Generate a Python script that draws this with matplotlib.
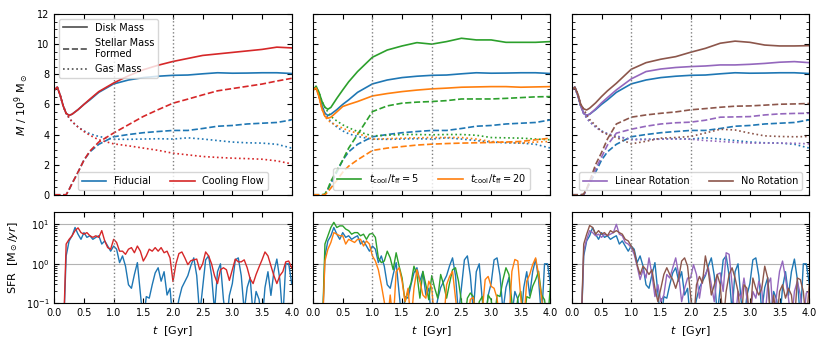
import numpy as np
import matplotlib.pyplot as plt
from matplotlib.lines import Line2D
from matplotlib.ticker import MultipleLocator, AutoMinorLocator, LogLocator, NullFormatter

plt.rcParams['font.size'] = 7
plt.rcParams['xtick.direction'] = 'in'
plt.rcParams['ytick.direction'] = 'in'
plt.rcParams['xtick.top'] = True
plt.rcParams['ytick.right'] = True

# mass history (units of 1e9 Msun)
t_mass = [0, 0.05, 0.1, 0.15, 0.2, 0.25, 0.3, 0.4, 0.5, 0.6, 0.75, 1.0,
          1.25, 1.5, 1.75, 2.0, 2.25, 2.5, 2.75, 3.0, 3.25, 3.5, 3.75, 4.0]

fid_disk = [6.95, 7.15, 6.6, 5.9, 5.4, 5.27, 5.35, 5.65, 6.0, 6.3, 6.8, 7.36,
            7.62, 7.78, 7.87, 7.93, 7.95, 8.03, 8.1, 8.07, 8.08, 8.1, 8.1, 8.05]
fid_star = [0, 0, 0, 0, 0, 0.35, 0.75, 1.5, 2.3, 2.85, 3.35, 3.85,
            4.0, 4.12, 4.2, 4.27, 4.27, 4.4, 4.55, 4.6, 4.7, 4.75, 4.8, 4.97]
fid_gas = [6.95, 7.15, 6.6, 5.9, 5.4, 5.1, 4.85, 4.5, 4.24, 4.05, 3.87, 3.69,
           3.68, 3.7, 3.72, 3.7, 3.78, 3.7, 3.6, 3.5, 3.45, 3.43, 3.35, 3.1]

cf_disk = [6.95, 7.15, 6.6, 5.9, 5.4, 5.27, 5.35, 5.65, 6.0, 6.35, 6.85, 7.42,
           7.9, 8.3, 8.6, 8.85, 9.05, 9.25, 9.35, 9.45, 9.55, 9.65, 9.8, 9.75]
cf_star = [0, 0, 0, 0, 0, 0.35, 0.75, 1.5, 2.3, 2.9, 3.5, 4.1,
           4.65, 5.2, 5.65, 6.08, 6.35, 6.63, 6.9, 7.05, 7.2, 7.35, 7.55, 7.73]
cf_gas = [6.95, 7.15, 6.6, 5.9, 5.4, 5.1, 4.85, 4.5, 4.2, 3.95, 3.65, 3.38,
          3.25, 3.1, 2.95, 2.76, 2.65, 2.54, 2.48, 2.43, 2.4, 2.36, 2.25, 2.05]

t5_disk = [6.95, 7.2, 6.8, 6.2, 5.8, 5.68, 5.8, 6.4, 6.96, 7.5, 8.18, 9.13,
           9.61, 9.88, 10.1, 10.0, 10.17, 10.39, 10.28, 10.28, 10.12, 10.12, 10.12, 10.17]
t5_star = [0, 0, 0, 0, 0.05, 0.4, 0.9, 1.6, 2.3, 3.1, 4.0, 5.52,
           5.9, 6.08, 6.15, 6.19, 6.25, 6.36, 6.36, 6.36, 6.4, 6.45, 6.5, 6.52]
t5_gas = [6.95, 7.2, 6.8, 6.2, 5.8, 5.5, 5.2, 4.9, 4.64, 4.45, 4.2, 3.91,
          3.95, 4.0, 4.0, 3.98, 4.0, 4.0, 3.95, 3.8, 3.78, 3.76, 3.7, 3.65]

t20_disk = [6.95, 7.1, 6.5, 5.7, 5.2, 5.08, 5.15, 5.5, 5.86, 6.0, 6.19, 6.56,
            6.72, 6.85, 6.95, 7.03, 7.08, 7.14, 7.16, 7.18, 7.18, 7.14, 7.16, 7.18]
t20_star = [0, 0, 0, 0, 0, 0.2, 0.45, 0.95, 1.5, 1.9, 2.32, 2.94,
            3.1, 3.2, 3.3, 3.36, 3.4, 3.43, 3.45, 3.47, 3.5, 3.54, 3.65, 3.76]
t20_gas = [6.95, 7.1, 6.5, 5.7, 5.2, 4.95, 4.8, 4.6, 4.42, 4.25, 4.09, 3.69,
           3.72, 3.76, 3.78, 3.8, 3.8, 3.8, 3.7, 3.54, 3.48, 3.43, 3.5, 3.54]

lin_disk = [6.95, 7.15, 6.6, 5.9, 5.4, 5.27, 5.35, 5.7, 6.1, 6.45, 6.96, 7.69,
            8.18, 8.35, 8.45, 8.51, 8.55, 8.62, 8.62, 8.66, 8.72, 8.8, 8.84, 8.77]
lin_star = [0, 0, 0, 0, 0, 0.35, 0.8, 1.7, 2.5, 3.3, 4.09, 4.35,
            4.55, 4.7, 4.78, 4.82, 4.95, 5.15, 5.17, 5.19, 5.3, 5.37, 5.4, 5.41]
lin_gas = [6.95, 7.15, 6.6, 5.9, 5.4, 5.1, 4.85, 4.5, 4.2, 4.05, 3.91, 3.65,
           3.67, 3.69, 3.7, 3.69, 3.6, 3.54, 3.48, 3.43, 3.43, 3.43, 3.42, 3.38]

norot_disk = [6.95, 7.15, 6.7, 6.0, 5.7, 5.63, 5.75, 6.1, 6.52, 6.9, 7.4, 8.33,
              8.77, 9.0, 9.17, 9.46, 9.72, 10.06, 10.2, 10.12, 9.94, 9.88, 9.88, 9.9]
norot_star = [0, 0, 0, 0, 0.05, 0.4, 0.9, 2.0, 2.8, 3.7, 4.7, 5.15,
              5.3, 5.41, 5.5, 5.64, 5.72, 5.81, 5.88, 5.9, 5.95, 6.01, 6.03, 6.06]
norot_gas = [6.95, 7.15, 6.7, 6.0, 5.7, 5.3, 5.0, 4.6, 4.2, 4.0, 3.8, 3.38,
             3.55, 3.76, 3.8, 3.87, 4.1, 4.35, 4.3, 4.09, 3.91, 3.87, 3.85, 3.87]

# star formation rate, log10(Msun/yr), sampled every 0.05 Gyr from 0 to 4
t_sfr = np.round(np.arange(81) * 0.05, 2)

fid_sfr = [-2, -2, -2, -2, 0.2, 0.58, 0.71, 0.92, 0.75, 0.62, 0.79, 0.67, 0.71, 0.62,
           0.67, 0.71, 0.5, 0.58, 0.45, 0.32, 0.45, 0.37, 0.03, 0.2, -0.06, -0.53, -0.62,
           -0.27, 0.03, -0.74, -1.5, -0.83, -0.87, -0.53, -0.23, -0.1, -0.44, -0.2, -0.79,
           -0.62, -1.5,
           -1.3, -0.9, -0.6, -0.45, -0.3, -0.05, 0.15, -0.3, -1.3, -0.6, 0.1, 0.2, -0.3,
           -1.2, -0.2, 0.0, -0.9, -1.5, -0.8, -0.5, 0.1, 0.15, -0.3, -1.2, -0.6, -0.35,
           -1.3, -0.7, -0.9, -1.5, -0.6, -0.2, -0.8, -0.2, 0.12, -0.4, -1.4, 0.0, 0.0, -0.5]
cf_sfr = [-2, -2, -2, -2, 0.5, 0.62, 0.71, 0.84, 0.91, 0.79, 0.75, 0.79, 0.71, 0.67,
          0.71, 0.67, 0.84, 0.58, 0.41, 0.37, 0.62, 0.54, 0.32, 0.32, 0.24, 0.37, 0.41,
          0.28, 0.45, 0.32, 0.07, 0.2, 0.37, 0.32, 0.41, 0.32, 0.41, 0.28, 0.32, 0.15, -0.45,
          0.0, 0.26, 0.3, 0.15, -0.02, 0.08, 0.1, 0.12, -0.15, 0.0, 0.3, 0.2, 0.0, -0.3,
          -0.5, -0.15, -0.1, -0.15, -0.42, -0.15, 0.12, 0.05, 0.05, 0.1, -0.1, -0.38, -0.5,
          -0.27, -0.08, 0.1, 0.3, 0.2, -0.05, -0.3, -0.5, -0.3, -0.2, 0.05, 0.07, -0.1]
t5_sfr = [-2, -2, -2, -2, 0.5, 0.71, 0.92, 1.05, 0.92, 0.96, 0.96, 0.88, 0.84, 0.75,
          0.79, 0.79, 0.71, 0.75, 0.62, 0.75, 0.77, 0.67, 0.15, 0.03, 0.07, 0.32, 0.15,
          -0.15, 0.28, -0.06, -0.36, -0.96, -0.7, -0.49, -0.06, -0.27, -0.87, -0.19, -0.53,
          -0.91, -0.3,
          -0.62, -0.87, -0.27, -0.53, -0.87, -0.49, -0.15, -0.1, -0.44, -0.96, -1.5, -0.87,
          -0.74, -0.83, -1.5, -0.96, -0.83, -1.5, -0.79, -0.91, -1.5, -0.79, -0.83, -0.4,
          -0.1, -0.27, -0.96, -1.5, -0.87, -0.7, -1.5, -0.83, -0.87, -0.57, -0.4, -0.19,
          -0.79, -0.91, -1.5, -0.53]
t20_sfr = [-2, -2, -2, -2, 0.07, 0.37, 0.54, 0.79, 0.75, 0.71, 0.71, 0.5, 0.62, 0.58,
           0.54, 0.62, 0.62, 0.45, 0.58, 0.5, 0.2, 0.07, -0.15, -0.53, -0.96, -1.5, -0.79,
           -1.5, -0.2, -0.1, -0.44, -0.96, -0.62, -1.5, -0.62, -0.15, -0.44, -0.79, -0.87,
           -0.44, -0.62,
           -1.5, -2, -2, -1.5, -0.53, -0.32, -0.19, -0.87, -1.5, -2, -2, -1.5, -0.9, -0.85,
           -1.5, -2, -1.2, -0.4, -0.32, -0.57, -0.62, -0.87, -1.5, -2, -2, -1.5, -0.19, 0.11,
           0.07, -0.87, -1.5, -0.44, -0.27, -0.02, 0.15, -0.27, -0.87, -1.5, -2, -2]
lin_sfr = [-2, -2, -2, -2, 0.32, 0.62, 0.84, 0.79, 0.71, 0.75, 0.67, 0.75, 0.71, 0.75,
           0.79, 1.0, 0.75, 0.71, 0.54, 0.5, 0.41, 0.24, -0.06, -0.4, -0.15, -0.36, 0.15,
           -0.27, -0.83, -0.53, -0.96, -0.79, -0.27, -0.36, -0.1, 0.15, -0.27, -0.96, -0.62,
           -0.36, -0.36,
           -0.02, -0.27, -0.87, -0.36, -0.27, -0.1, -0.53, -0.96, -0.27, -0.23, -0.7, 0.28,
           0.24, -0.53, -1.5, -0.7, -0.87, -0.36, -0.87, -1.5, -0.7, -0.87, -0.44, -0.66,
           -1.5, -0.53, -0.36, -1.5, -0.79, -0.19, 0.07, -0.36, -0.87, -1.5, -0.7, -0.44,
           -0.79, -1.5, -0.74, -0.7]
norot_sfr = [-2, -2, -2, -2, 0.5, 0.75, 0.97, 0.92, 0.75, 0.84, 0.75, 0.79, 0.71, 0.84,
             0.79, 0.84, 0.79, 0.75, 0.62, 0.58, 0.45, 0.32, -0.02, -0.27, -0.06, -0.15,
             -0.27, -0.15, -0.62, -0.96, -0.62, -0.27, -0.1, -0.27, -0.4, -0.62, -0.36, 0.07,
             0.15, -0.06, -0.79,
             -1.5, -0.53, -0.32, -0.49, 0.2, -0.19, -0.79, -0.53, -0.27, -0.53, -1.5, -0.7,
             -0.27, -0.1, -0.36, -0.7, -1.5, -0.53, -0.62, -1.5, -0.36, -0.62, -0.79, -0.62,
             -0.06, -0.36, -1.5, -0.79, -1.5, -0.7, -0.53, -0.87, -0.62, -0.79, -1.5, -0.36,
             -0.4, -0.7, -1.5, -0.53]

panels = [
    [('Fiducial', 'C0', fid_disk, fid_star, fid_gas, fid_sfr),
     ('Cooling Flow', 'C3', cf_disk, cf_star, cf_gas, cf_sfr)],
    [('Fiducial', 'C0', fid_disk, fid_star, fid_gas, fid_sfr),
     (r'$t_{\rm cool}/t_{\rm ff} = 5$', 'C2', t5_disk, t5_star, t5_gas, t5_sfr),
     (r'$t_{\rm cool}/t_{\rm ff} = 20$', 'C1', t20_disk, t20_star, t20_gas, t20_sfr)],
    [('Fiducial', 'C0', fid_disk, fid_star, fid_gas, fid_sfr),
     ('Linear Rotation', 'C4', lin_disk, lin_star, lin_gas, lin_sfr),
     ('No Rotation', 'C5', norot_disk, norot_star, norot_gas, norot_sfr)],
]

fig, axes = plt.subplots(2, 3, figsize=(8.3, 3.46), dpi=100, sharex=True,
                         gridspec_kw={'height_ratios': [181, 91]})
fig.subplots_adjust(left=0.0654, right=0.975, top=0.9595, bottom=0.1234,
                    wspace=0.09, hspace=0.13)

for col, runs in enumerate(panels):
    ax_m = axes[0, col]
    ax_s = axes[1, col]
    leg_handles = []
    for name, c, disk, star, gas, sfr in runs:
        h, = ax_m.plot(t_mass, disk, color=c, lw=1.2, ls='-')
        ax_m.plot(t_mass, star, color=c, lw=1.2, ls='--')
        ax_m.plot(t_mass, gas, color=c, lw=1.2, ls=':')
        leg_handles.append((h, name))
        ax_s.plot(t_sfr, 10 ** np.array(sfr), color=c, lw=1.0)
    # fiducial legend entry shown only where it is labelled
    if col == 1:
        leg_handles = leg_handles[1:]
    elif col == 2:
        leg_handles = leg_handles[1:]
    leg = ax_m.legend([h for h, n in leg_handles], [n for h, n in leg_handles],
                      loc='lower center', ncol=2, fontsize=7, handlelength=2.5,
                      columnspacing=2.0)
    if col == 0:
        style_handles = [Line2D([], [], color='0.3', lw=1.2, ls='-'),
                         Line2D([], [], color='0.3', lw=1.2, ls='--'),
                         Line2D([], [], color='0.3', lw=1.2, ls=':')]
        ax_m.add_artist(leg)
        ax_m.legend(style_handles, ['Disk Mass', 'Stellar Mass\nFormed', 'Gas Mass'],
                    loc='upper left', fontsize=7, handlelength=2.5)

    for ax in (ax_m, ax_s):
        ax.axvline(1.0, color='gray', ls=':', lw=1.0)
        ax.axvline(2.0, color='gray', ls=':', lw=1.0)
        ax.set_xlim(0, 4)
        ax.xaxis.set_major_locator(MultipleLocator(0.5))

    ax_m.set_ylim(0, 12)
    ax_m.yaxis.set_major_locator(MultipleLocator(2))
    ax_m.yaxis.set_minor_locator(AutoMinorLocator())

    ax_s.set_yscale('log')
    ax_s.set_ylim(0.1, 20)
    ax_s.yaxis.set_major_locator(LogLocator(base=10, numticks=5))
    ax_s.yaxis.set_minor_locator(LogLocator(base=10, subs=np.arange(2, 10), numticks=10))
    ax_s.yaxis.set_minor_formatter(NullFormatter())
    ax_s.grid(axis='y', which='major', color='0.7', lw=0.8)
    ax_s.set_xlabel(r'$t$  [Gyr]', fontsize=8)

    if col > 0:
        ax_m.set_yticklabels([])
        ax_s.set_yticklabels([])

axes[0, 0].set_ylabel(r'$M$ / $10^9$ M$_\odot$', fontsize=8)
axes[1, 0].set_ylabel(r'SFR  [M$_\odot$/$yr$]', fontsize=8)

plt.savefig('out.png', dpi=100)
